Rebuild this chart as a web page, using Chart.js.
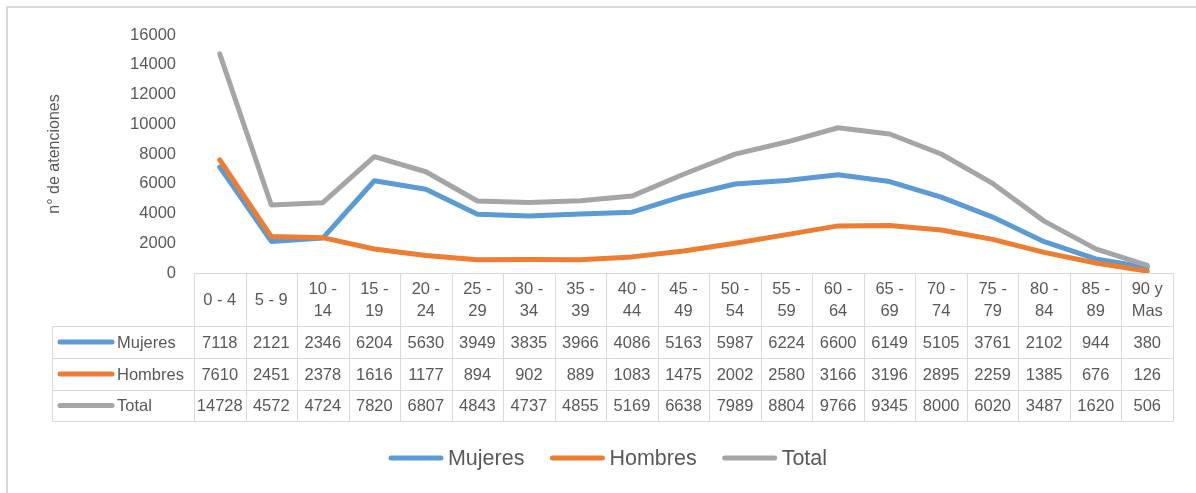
<!DOCTYPE html>
<html>
<head>
<meta charset="utf-8">
<script src="https://cdn.jsdelivr.net/npm/chart.js@4.4.1/dist/chart.umd.min.js"></script>
<style>
  html, body { margin: 0; padding: 0; background: #fff; }
</style>
</head>
<body>
<canvas id="chart" width="1196" height="493"></canvas>
<script>
// Data
const ageGroups = ['0 - 4', '5 - 9', '10 - 14', '15 - 19', '20 - 24', '25 - 29', '30 - 34',
    '35 - 39', '40 - 44', '45 - 49', '50 - 54', '55 - 59', '60 - 64', '65 - 69', '70 - 74',
    '75 - 79', '80 - 84', '85 - 89', '90 y Mas'];
const mujeres = [7118, 2121, 2346, 6204, 5630, 3949, 3835, 3966, 4086, 5163, 5987, 6224, 6600, 6149, 5105, 3761, 2102, 944, 380];
const hombres = [7610, 2451, 2378, 1616, 1177, 894, 902, 889, 1083, 1475, 2002, 2580, 3166, 3196, 2895, 2259, 1385, 676, 126];
const total = [14728, 4572, 4724, 7820, 6807, 4843, 4737, 4855, 5169, 6638, 7989, 8804, 9766, 9345, 8000, 6020, 3487, 1620, 506];
const seriesNames = ['Mujeres', 'Hombres', 'Total'];
const seriesColors = ['#5B9BD5', '#ED7D31', '#A5A5A5'];
const yMax = 16000;
const yStep = 2000;

const FONT = '"Liberation Sans", Arial, sans-serif';
const TEXT = '#595959';
const GRID = '#d9d9d9';

// splits "10 - 14" into two lines like Excel does in narrow cells
function wrapLabel(label) {
    if (label.length <= 5) return [label];
    const cut = label.lastIndexOf(' ');
    return [label.slice(0, cut), label.slice(cut + 1)];
}

// Draws the frame, the data table under the x axis and the legend
const tablePlugin = {
    id: 'dataTable',
    beforeDraw(chart) {
        const ctx = chart.ctx;
        ctx.save();
        ctx.fillStyle = GRID;
        ctx.fillRect(6, 6, 1190, 2);
        ctx.fillRect(6, 6, 2, 487);
        ctx.restore();
    },
    afterDraw(chart) {
        const ctx = chart.ctx;
        const area = chart.chartArea;
        const x = chart.scales.x;
        const half = (x.getPixelForValue(1) - x.getPixelForValue(0)) / 2;
        const top = area.bottom;
        const rows = [top, top + 53, top + 85, top + 117, top + 148];
        const keyLeft = 52;
        const allData = [mujeres, hombres, total];

        ctx.save();
        ctx.strokeStyle = GRID;
        ctx.lineWidth = 1;
        ctx.beginPath();
        ctx.moveTo(area.left, rows[0] + 0.5);
        ctx.lineTo(area.right, rows[0] + 0.5);
        for (let r = 1; r < rows.length; r++) {
            ctx.moveTo(keyLeft, rows[r] + 0.5);
            ctx.lineTo(area.right, rows[r] + 0.5);
        }
        for (let i = 0; i <= ageGroups.length; i++) {
            const px = Math.round(x.getPixelForValue(i) - half) + 0.5;
            ctx.moveTo(px, rows[0]);
            ctx.lineTo(px, rows[4]);
        }
        ctx.moveTo(keyLeft + 0.5, rows[1]);
        ctx.lineTo(keyLeft + 0.5, rows[4]);
        ctx.stroke();

        ctx.fillStyle = TEXT;
        ctx.font = '16.5px ' + FONT;
        ctx.textAlign = 'center';
        ctx.textBaseline = 'middle';
        ageGroups.forEach((g, i) => {
            const cx = x.getPixelForValue(i);
            const lines = wrapLabel(g);
            if (lines.length === 1) {
                ctx.fillText(lines[0], cx, top + 27);
            } else {
                ctx.fillText(lines[0], cx, top + 16);
                ctx.fillText(lines[1], cx, top + 38);
            }
        });

        allData.forEach((values, s) => {
            const cy = (rows[s + 1] + rows[s + 2]) / 2 + 1;
            values.forEach((v, i) => {
                ctx.fillText(String(v), x.getPixelForValue(i), cy);
            });
            ctx.strokeStyle = seriesColors[s];
            ctx.lineWidth = 5;
            ctx.lineCap = 'round';
            ctx.beginPath();
            ctx.moveTo(60, cy - 1);
            ctx.lineTo(112, cy - 1);
            ctx.stroke();
            ctx.textAlign = 'left';
            ctx.fillText(seriesNames[s], 117, cy);
            ctx.textAlign = 'center';
        });

        // legend
        ctx.font = '21.5px ' + FONT;
        ctx.textAlign = 'left';
        const keyW = 54, gapText = 5, gapItem = 26;
        const widths = seriesNames.map(n => ctx.measureText(n).width);
        let totalW = 0;
        widths.forEach((w, i) => { totalW += keyW + gapText + w + (i < widths.length - 1 ? gapItem : 0); });
        let lx = 608 - totalW / 2;
        const ly = 459;
        seriesNames.forEach((n, i) => {
            ctx.strokeStyle = seriesColors[i];
            ctx.lineWidth = 5;
            ctx.lineCap = 'round';
            ctx.beginPath();
            ctx.moveTo(lx + 2, ly - 1);
            ctx.lineTo(lx + keyW - 2, ly - 1);
            ctx.stroke();
            ctx.fillText(n, lx + keyW + gapText, ly);
            lx += keyW + gapText + widths[i] + gapItem;
        });
        ctx.restore();
    }
};

const datasets = [mujeres, hombres, total].map((values, i) => ({
    label: seriesNames[i],
    data: values,
    borderColor: seriesColors[i],
    backgroundColor: seriesColors[i],
    borderWidth: 5,
    borderCapStyle: 'round',
    borderJoinStyle: 'round',
    pointRadius: 0,
    tension: 0,
    order: 3 - i
}));

new Chart(document.getElementById('chart'), {
    type: 'line',
    data: { labels: ageGroups, datasets: datasets },
    options: {
        responsive: false,
        animation: false,
        layout: { padding: { top: 35, right: 23, bottom: 72, left: 0 } },
        plugins: {
            legend: { display: false },
            tooltip: { enabled: false }
        },
        scales: {
            x: {
                offset: true,
                grid: { display: false },
                border: { display: false },
                ticks: { display: false },
                afterFit(scale) { scale.height = 148; }
            },
            y: {
                min: 0,
                max: yMax,
                grid: { display: false, drawTicks: false },
                border: { display: false },
                ticks: {
                    stepSize: yStep,
                    padding: 18,
                    color: TEXT,
                    font: { family: FONT, size: 16.5 },
                    callback: (value) => String(value)
                },
                title: {
                    display: true,
                    text: 'n° de atenciones',
                    color: TEXT,
                    font: { family: FONT, size: 16 },
                    padding: { top: 45, bottom: 0 }
                },
                afterFit(scale) { scale.width = 194; }
            }
        }
    },
    plugins: [tablePlugin]
});
</script>
</body>
</html>
